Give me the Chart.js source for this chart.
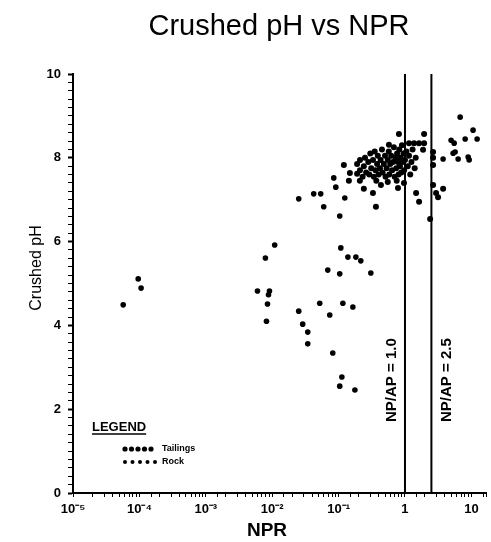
<!DOCTYPE html>
<html>
<head>
<meta charset="utf-8">
<script src="https://cdn.jsdelivr.net/npm/chart.js@4.4.1/dist/chart.umd.min.js"></script>
<style>
  html, body { margin: 0; padding: 0; background: #fff; }
</style>
</head>
<body>
<canvas id="phChart" width="491" height="542"></canvas>
<script>
// Tailings samples (NPR, crushed pH)
const tailingsNpr = [
  0.19, 0.19, 0.21, 0.21, 0.23, 0.24, 0.25, 0.26, 0.28, 0.29, 0.30, 0.31, 0.33, 0.34, 0.35, 0.36,
  0.38, 0.39, 0.40, 0.42, 0.43, 0.45, 0.46, 0.48, 0.50, 0.51, 0.53, 0.55, 0.57, 0.58, 0.60, 0.62,
  0.64, 0.66, 0.68, 0.70, 0.72, 0.74, 0.76, 0.78, 0.80, 0.82, 0.84, 0.86, 0.88, 0.90, 0.92, 0.95,
  0.97, 1.00, 1.05, 1.10, 1.15, 1.20, 1.25, 1.30, 1.40, 1.45, 0.37, 0.55, 0.75,
  0.81, 1.94, 1.15, 1.37, 1.63, 1.94, 0.573, 1.87, 2.65, 2.65, 2.65, 0.784, 0.966, 1.47, 1.63,
  2.65, 2.94, 3.15, 3.75, 2.39, 0.365, 0.434, 0.329, 0.240, 0.209, 0.143, 0.148, 0.120
];
const tailingsPh = [
  7.85, 7.62, 7.95, 7.70, 7.55, 7.80, 8.00, 7.65, 7.90, 7.60, 8.10, 7.75, 7.95, 7.55, 8.15, 7.70,
  7.85, 8.05, 7.60, 7.75, 7.95, 8.20, 7.65, 7.85, 8.05, 7.55, 7.75, 7.95, 8.15, 7.60, 7.85, 8.05,
  7.70, 7.90, 8.25, 7.55, 8.00, 7.75, 8.10, 7.90, 7.60, 8.20, 7.80, 8.00, 7.65, 8.30, 7.90, 8.10,
  7.70, 7.95, 8.15, 7.80, 8.05, 7.60, 7.90, 8.20, 7.75, 8.00, 7.45, 7.42, 7.45,
  8.57, 8.57, 8.35, 8.35, 8.35, 8.35, 8.31, 8.19, 8.14, 8.00, 7.83, 7.28, 7.40, 7.16, 6.95,
  7.35, 7.16, 7.06, 7.26, 6.54, 6.83, 7.35, 7.16, 7.26, 7.45, 7.45, 7.64, 7.83
];

// Rock samples (NPR, crushed pH)
const rockNpr = [
  9.6e-5, 1.06e-4, 5.7e-5, 0.0109, 0.0079, 0.0060, 0.0091, 0.0088, 0.0085, 0.0082,
  0.0251, 0.0288, 0.0343, 0.0343, 0.052, 0.0736, 0.0817, 0.116, 0.164, 0.112, 0.104, 0.176,
  0.0687, 0.104, 0.306, 0.108, 0.138, 0.182, 0.216,
  0.0251, 0.0422, 0.0538, 0.0597, 0.104, 0.124, 0.0846, 0.0908,
  6.78, 10.6, 12.2, 4.95, 5.5, 8.06, 5.31, 5.69, 3.75, 6.32, 8.95, 9.26
];
const rockPh = [
  5.11, 4.89, 4.49, 5.92, 5.61, 4.82, 4.82, 4.73, 4.51, 4.10,
  4.34, 4.03, 3.84, 3.56, 4.53, 4.25, 3.34, 4.53, 4.44, 2.77, 2.55, 2.46,
  5.32, 5.23, 5.25, 5.85, 5.63, 5.63, 5.54,
  7.02, 7.14, 7.14, 6.83, 6.61, 7.04, 7.52, 7.30,
  8.97, 8.66, 8.45, 8.42, 8.35, 8.45, 8.11, 8.14, 7.97, 7.97, 8.02, 7.95
];

// NP/AP criteria lines
const npapLimits = [1.0, 2.5];
const npapLabels = ['NP/AP = 1.0', 'NP/AP = 2.5'];

// axis ticks
const xDecades = [1e-5, 1e-4, 1e-3, 1e-2, 1e-1, 1, 10];
const xDecadeLabels = ['10\u207B\u2075', '10\u207B\u2074', '10\u207B\u00B3', '10\u207B\u00B2', '10\u207B\u00B9', '1', '10'];
const yTickLabels = [0, 2, 4, 6, 8, 10];

const FONT = '"Liberation Sans", Arial, sans-serif';

const toPoints = (xs, ys) => xs.map((x, i) => ({ x: x, y: ys[i] }));

const criteriaSets = npapLimits.map(v => ({
  type: 'line',
  label: 'NP/AP ' + v,
  data: [{ x: v, y: 0 }, { x: v, y: 10 }],
  borderColor: '#000',
  borderWidth: 2,
  pointRadius: 0,
  showLine: true
}));

// titles, line captions and the hand-drawn style legend
const decorations = {
  id: 'decorations',
  afterDraw(chart) {
    const { ctx, scales } = chart;
    ctx.save();
    ctx.fillStyle = '#000';
    ctx.strokeStyle = '#000';

    ctx.font = '29px ' + FONT;
    ctx.textAlign = 'center';
    ctx.textBaseline = 'middle';
    ctx.fillText('Crushed pH vs NPR', 279, 27);

    ctx.font = 'bold 19px ' + FONT;
    ctx.fillText('NPR', 267, 531);

    ctx.save();
    ctx.translate(37, 268);
    ctx.rotate(-Math.PI / 2);
    ctx.font = '16px ' + FONT;
    ctx.fillText('Crushed pH', 0, 0);
    ctx.restore();

    // captions next to the criteria lines
    const sides = [-13, 15];
    npapLimits.forEach((v, i) => {
      const px = scales.x.getPixelForValue(v) + sides[i];
      ctx.save();
      ctx.translate(px, 422);
      ctx.rotate(-Math.PI / 2);
      ctx.font = 'bold 15px ' + FONT;
      ctx.textAlign = 'left';
      ctx.fillText(npapLabels[i], 0, 0);
      ctx.restore();
    });

    // legend
    ctx.textAlign = 'left';
    ctx.font = 'bold 13px ' + FONT;
    ctx.fillText('LEGEND', 92, 427);
    const w = ctx.measureText('LEGEND').width;
    ctx.lineWidth = 1.5;
    ctx.beginPath();
    ctx.moveTo(92, 434);
    ctx.lineTo(92 + w, 434);
    ctx.stroke();

    ctx.font = 'bold 9px ' + FONT;
    const rows = [['Tailings', 449, 2.6, 6.5], ['Rock', 462, 2, 7.5]];
    rows.forEach(([name, y, r, gap]) => {
      for (let k = 0; k < 5; k++) {
        ctx.beginPath();
        ctx.arc(125 + k * gap, y, r, 0, Math.PI * 2);
        ctx.fill();
      }
      ctx.fillText(name, 162, y);
    });
    ctx.restore();
  }
};

new Chart(document.getElementById('phChart'), {
  type: 'scatter',
  data: {
    datasets: [
      {
        label: 'Tailings',
        data: toPoints(tailingsNpr, tailingsPh),
        backgroundColor: '#000',
        borderWidth: 0,
        pointRadius: 3
      },
      {
        label: 'Rock',
        data: toPoints(rockNpr, rockPh),
        backgroundColor: '#000',
        borderWidth: 0,
        pointRadius: 2.8
      },
      ...criteriaSets
    ]
  },
  options: {
    responsive: false,
    animation: false,
    devicePixelRatio: 1,
    layout: { padding: { top: 74, right: 0, left: 0, bottom: 0 } },
    plugins: {
      legend: { display: false },
      tooltip: { enabled: false }
    },
    scales: {
      x: {
        type: 'logarithmic',
        min: 1e-5,
        max: 16.6,
        afterFit: s => { s.height = 49; },
        border: { color: '#000', width: 2 },
        grid: { drawOnChartArea: false, color: '#000', tickLength: 4 },
        ticks: {
          autoSkip: false,
          maxRotation: 0,
          minRotation: 0,
          padding: 5,
          color: '#000',
          font: { family: FONT, size: 13, weight: 'bold' },
          callback: v => {
            const i = xDecades.findIndex(d => Math.abs(Math.log10(v) - Math.log10(d)) < 1e-6);
            return i >= 0 ? xDecadeLabels[i] : '';
          }
        }
      },
      y: {
        min: 0,
        max: 10,
        afterFit: s => { s.width = 73; },
        border: { color: '#000', width: 2 },
        grid: {
          drawOnChartArea: false,
          color: '#000',
          tickLength: 5,
          tickWidth: c => (c.tick && yTickLabels.includes(Math.round(c.tick.value * 5) / 5) ? 2 : 1)
        },
        ticks: {
          stepSize: 0.2,
          autoSkip: false,
          padding: 7,
          color: '#000',
          font: { family: FONT, size: 13, weight: 'bold' },
          callback: v => {
            const r = Math.round(v * 5) / 5;
            return yTickLabels.includes(r) ? String(r) : '';
          }
        }
      }
    }
  },
  plugins: [decorations]
});
</script>
</body>
</html>
